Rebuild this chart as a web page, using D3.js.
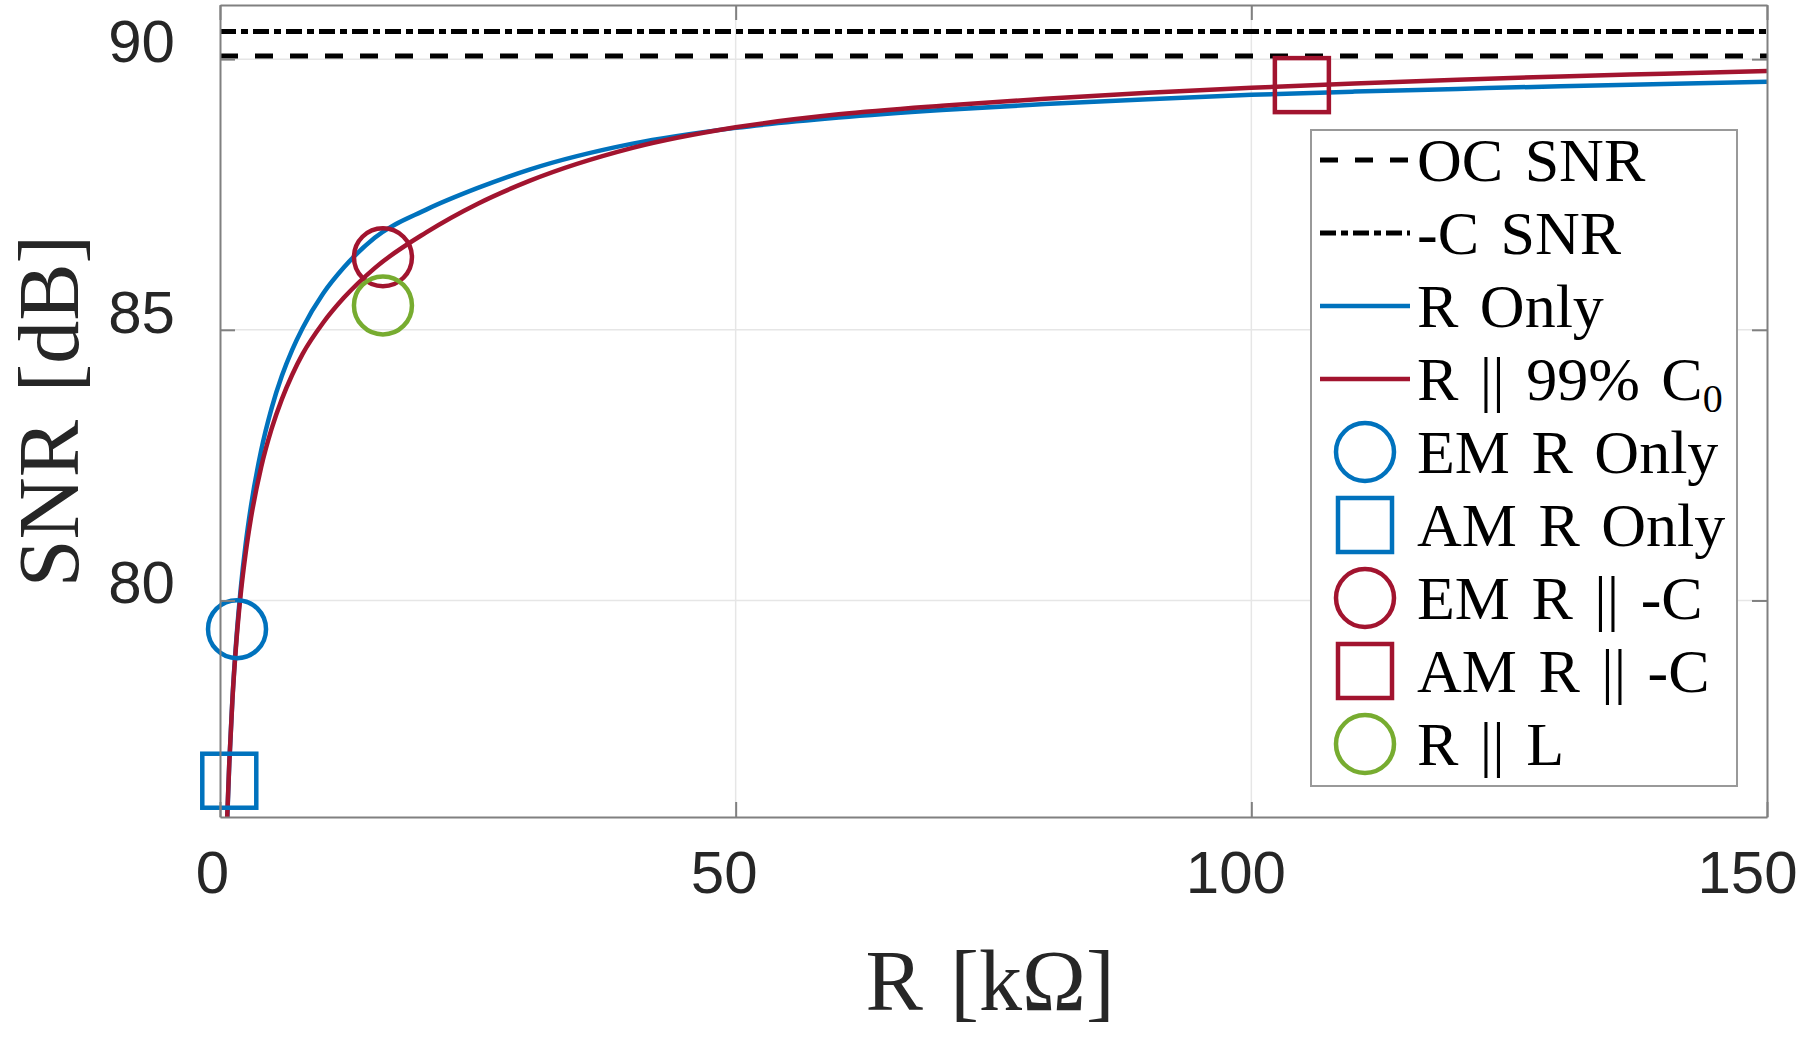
<!DOCTYPE html>
<html><head><meta charset="utf-8">
<script src="https://cdn.jsdelivr.net/npm/d3@7"></script>
<style>body{margin:0;background:#fff;overflow:hidden}</style>
</head><body>
<svg id="c" width="1800" height="1037" xmlns="http://www.w3.org/2000/svg"></svg>
<script>
// ---- data ----
const resistanceK = [0.6,0.7,0.9,1.2,1.6,2.0,2.5,3,4,5,6,7,8,10,12,15,20,25,30,40,50,60,70,80,90,100,110,120,130,140,150];
const snrROnly =    [75.5,75.95,76.99,78.17,79.32,80.20,81.06,81.74,82.78,83.55,84.15,84.63,85.03,85.67,86.15,86.70,87.22,87.62,87.96,88.44,88.73,88.92,89.06,89.17,89.26,89.34,89.40,89.45,89.50,89.54,89.58];
const snrRParC =    [75.5,76.0,77.0,78.15,79.27,80.1,80.89,81.52,82.47,83.17,83.72,84.17,84.55,85.13,85.59,86.14,86.8,87.33,87.75,88.36,88.74,88.98,89.14,89.27,89.38,89.47,89.55,89.62,89.68,89.73,89.78];
const ocSNR = 90.06;
const cSNR = 90.51;
const markerNames = ["EM R Only","AM R Only","EM R || -C","AM R || -C","R || L"];
const markerR =     [1.65, 0.9, 15.8, 104.9, 15.8];
const markerSNR =   [79.47, 76.67, 86.34, 89.52, 85.45];
const markerShape = ["circle","square","circle","square","circle"];
const markerColor = ["#0072BD","#0072BD","#A2142F","#A2142F","#77AC30"];
const xTicks = [0,50,100,150];
const yTicks = [80,85,90];

// ---- setup ----
const svg = d3.select("#c");
const L = 220, R = 1767, T = 5, B = 817;
const x = d3.scaleLinear().domain([0,150]).range([L,R]);
const y = d3.scaleLinear().domain([76,91]).range([B,T]);
const axisCol = "#808080", textCol = "#262626";
const blue = "#0072BD", red = "#A2142F";
const dashStyle = "18,17", dashDotStyle = "16,5,7,5";

svg.append("rect").attr("width",1800).attr("height",1037).attr("fill","#fff");

// grid
const grid = svg.append("g").attr("stroke","#e6e6e6").attr("stroke-width",1.5);
grid.selectAll("line.gx").data(xTicks.filter(t=>t>0&&t<150)).join("line")
  .attr("x1",d=>x(d)).attr("x2",d=>x(d)).attr("y1",T).attr("y2",B);
grid.selectAll("line.gy").data(yTicks).join("line")
  .attr("x1",L).attr("x2",R).attr("y1",d=>y(d)).attr("y2",d=>y(d));

// clip
svg.append("defs").append("clipPath").attr("id","clip")
  .append("rect").attr("x",L).attr("y",T).attr("width",R-L).attr("height",B-T);
const plot = svg.append("g").attr("clip-path","url(#clip)");

// horizontal reference lines
plot.append("line").attr("x1",L).attr("x2",R).attr("y1",y(cSNR)).attr("y2",y(cSNR))
  .attr("stroke","#000").attr("stroke-width",5).attr("stroke-dasharray",dashDotStyle);
plot.append("line").attr("x1",L).attr("x2",R).attr("y1",y(ocSNR)).attr("y2",y(ocSNR))
  .attr("stroke","#000").attr("stroke-width",5).attr("stroke-dasharray",dashStyle);

// curves
const line = d3.line().x((d,i)=>x(resistanceK[i])).y(d=>y(d)).curve(d3.curveMonotoneX);
plot.append("path").attr("d",line(snrROnly)).attr("fill","none").attr("stroke",blue).attr("stroke-width",4.5);
plot.append("path").attr("d",line(snrRParC)).attr("fill","none").attr("stroke",red).attr("stroke-width",4.5);

// markers
function drawMarker(g, shape, cx, cy, col){
  if(shape==="circle"){
    g.append("circle").attr("cx",cx).attr("cy",cy).attr("r",29)
      .attr("fill","none").attr("stroke",col).attr("stroke-width",4.5);
  } else {
    g.append("rect").attr("x",cx-27).attr("y",cy-27).attr("width",54).attr("height",54)
      .attr("fill","none").attr("stroke",col).attr("stroke-width",4.5);
  }
}
const mk = svg.append("g");
markerR.forEach((r,i)=>drawMarker(mk, markerShape[i], x(r), y(markerSNR[i]), markerColor[i]));

// axes
function styleAxis(g){
  g.attr("color",axisCol);
  g.selectAll("path.domain").attr("stroke-width",2);
  g.selectAll(".tick line").attr("stroke-width",2);
  g.selectAll("text").attr("fill",textCol).attr("font-family","'Liberation Sans', Arial, sans-serif").attr("font-size",60);
}
const xb = svg.append("g").attr("transform",`translate(0,${B})`)
  .call(d3.axisBottom(x).tickValues(xTicks).tickSizeInner(-15).tickSizeOuter(0).tickPadding(33).tickFormat(d3.format("d")));
styleAxis(xb);
xb.selectAll(".tick text").attr("dx",d=>-(8+d*0.08));
const xt = svg.append("g").attr("transform",`translate(0,${T})`)
  .call(d3.axisTop(x).tickValues(xTicks).tickSizeInner(-15).tickSizeOuter(0).tickFormat(""));
styleAxis(xt);
const yl = svg.append("g").attr("transform",`translate(${L},0)`)
  .call(d3.axisLeft(y).tickValues(yTicks).tickSizeInner(-15).tickSizeOuter(0).tickPadding(45).tickFormat(d3.format("d")));
styleAxis(yl);
yl.selectAll(".tick text").attr("y",-17);
const yr = svg.append("g").attr("transform",`translate(${R},0)`)
  .call(d3.axisRight(y).tickValues(yTicks).tickSizeInner(-15).tickSizeOuter(0).tickFormat(""));
styleAxis(yr);

// axis labels
const serif = "'Liberation Serif','Times New Roman',serif";
svg.append("text").attr("transform",`translate(78,${(T+B)/2}) rotate(-90)`)
  .attr("text-anchor","middle").attr("font-family",serif).attr("font-size",86).attr("fill",textCol)
  .attr("word-spacing",6).text("SNR [dB]");
svg.append("text").attr("x",990).attr("y",1010)
  .attr("text-anchor","middle").attr("font-family",serif).attr("font-size",86).attr("fill",textCol)
  .attr("word-spacing",6).text("R [kΩ]");

// legend
const lg = svg.append("g");
lg.append("rect").attr("x",1311).attr("y",130).attr("width",426).attr("height",656)
  .attr("fill","#fff").attr("stroke","#999").attr("stroke-width",2);
const entries = [
  {label:"OC SNR", type:"line", color:"#000", dash:dashStyle, w:5},
  {label:"-C SNR", type:"line", color:"#000", dash:dashDotStyle, w:5},
  {label:"R Only", type:"line", color:blue, dash:null, w:4.5},
  {label:"R || 99% C", sub:"0", type:"line", color:red, dash:null, w:4.5}
].concat(markerNames.map((n,i)=>({label:n, type:markerShape[i], color:markerColor[i]})));
entries.forEach((e,i)=>{
  const cy = 160 + i*73;
  if(e.type==="line"){
    lg.append("line").attr("x1",1320).attr("x2",1410).attr("y1",cy).attr("y2",cy)
      .attr("stroke",e.color).attr("stroke-width",e.w).attr("stroke-dasharray",e.dash);
  } else {
    drawMarker(lg, e.type, 1365, cy, e.color);
  }
  const t = lg.append("text").attr("x",1417).attr("y",cy+21)
    .attr("font-family",serif).attr("font-size",62).attr("fill","#000")
    .attr("word-spacing",6).text(e.label);
  if(e.sub){ t.append("tspan").attr("font-size",40).attr("dy",12).text(e.sub); }
});
</script>
</body></html>
